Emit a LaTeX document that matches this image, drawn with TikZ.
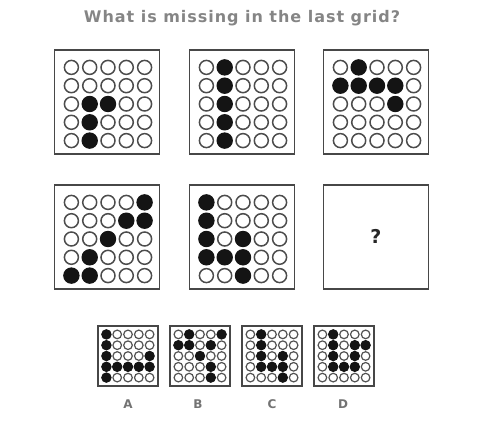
\documentclass[tikz,border=0pt]{standalone}
\usepackage{fontspec}
\setmainfont{DejaVu Sans}
\begin{document}
\begin{tikzpicture}[x=1pt,y=-1pt,
  titletext/.style={font=\bfseries\fontsize{16}{18}\selectfont\addfontfeature{LetterSpace=6}, text=black!48},
  bigbox/.style={draw=black!72, line width=1.5pt, minimum width=105pt, minimum height=104pt, inner sep=0pt, fill=white},
  smallbox/.style={draw=black!72, line width=1.3pt, minimum width=60pt, minimum height=60pt, inner sep=0pt, fill=white},
  optlabel/.style={font=\bfseries\fontsize{12}{14}\selectfont, text=black!55},
  bigopen/.style={draw=black!70, line width=1.5pt, fill=white},
  bigfull/.style={fill=black!92},
  smallopen/.style={draw=black!68, line width=1.2pt, fill=white},
  smallfull/.style={fill=black!92}
]
\useasboundingbox (0,0) rectangle (486,422);

% grid macro: #1 center x, #2 center y, #3 spacing, #4 open radius, #5 full radius, #6 open style, #7 full style, #8 filled list col/row
\newcommand{\dotgrid}[8]{%
  \foreach \gc in {1,...,5}{\foreach \gr in {1,...,5}{%
    \path[#6] ({#1+(\gc-3)*#3},{#2+(\gr-3)*#3}) circle (#4pt);}}%
  \foreach \gc/\gr in {#8}{%
    \path[#7] ({#1+(\gc-3)*#3},{#2+(\gr-3)*#3}) circle (#5pt);}%
}

\node[titletext] (title) at (242,18) {What is missing in the last grid?};

% big boxes
\node[bigbox] (g1) at (107,102) {};
\node[bigbox] (g2) at (242,102) {};
\node[bigbox] (g3) at (376,102) {};
\node[bigbox] (g4) at (107,237) {};
\node[bigbox] (g5) at (242,237) {};
\node[bigbox] (g6) at (376,237) {};

\dotgrid{108}{104}{18.3}{7}{8.2}{bigopen}{bigfull}{2/3,3/3,2/4,2/5}
\dotgrid{243}{104}{18.3}{7}{8.2}{bigopen}{bigfull}{2/1,2/2,2/3,2/4,2/5}
\dotgrid{377}{104}{18.3}{7}{8.2}{bigopen}{bigfull}{2/1,1/2,2/2,3/2,4/2,4/3}
\dotgrid{108}{239}{18.3}{7}{8.2}{bigopen}{bigfull}{5/1,4/2,5/2,3/3,2/4,1/5,2/5}
\dotgrid{243}{239}{18.3}{7}{8.2}{bigopen}{bigfull}{1/1,1/2,1/3,3/3,1/4,2/4,3/4,3/5}

\node[font=\bfseries\fontsize{19}{22}\selectfont, text=black!85] (q) at (376,236) {?};

% small option boxes
\node[smallbox] (oa) at (128,356) {};
\node[smallbox] (ob) at (200,356) {};
\node[smallbox] (oc) at (272,356) {};
\node[smallbox] (od) at (344,356) {};

\dotgrid{128}{356}{10.8}{4.3}{5.2}{smallopen}{smallfull}{1/1,1/2,1/3,5/3,1/4,2/4,3/4,4/4,5/4,1/5}
\dotgrid{200}{356}{10.8}{4.3}{5.2}{smallopen}{smallfull}{2/1,5/1,1/2,2/2,4/2,3/3,4/4,4/5}
\dotgrid{272}{356}{10.8}{4.3}{5.2}{smallopen}{smallfull}{2/1,2/2,2/3,4/3,2/4,3/4,4/4,4/5}
\dotgrid{344}{356}{10.8}{4.3}{5.2}{smallopen}{smallfull}{2/1,2/2,4/2,5/2,2/3,4/3,2/4,3/4,4/4}

\node[optlabel] (la) at (128,404) {A};
\node[optlabel] (lb) at (198,404) {B};
\node[optlabel] (lc) at (272,404) {C};
\node[optlabel] (ld) at (343,404) {D};
\end{tikzpicture}
\end{document}
